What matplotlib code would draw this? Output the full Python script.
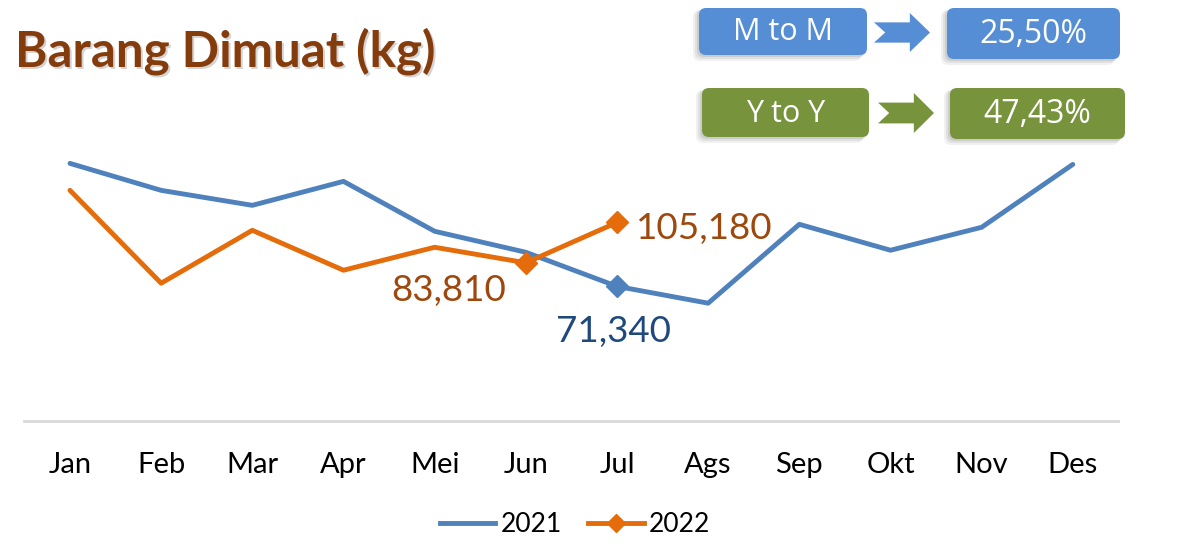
import matplotlib.pyplot as plt
from matplotlib.patches import FancyBboxPatch, Polygon
from matplotlib.lines import Line2D

plt.rcParams['font.family'] = ['Lato', 'DejaVu Sans']

months = ['Jan', 'Feb', 'Mar', 'Apr', 'Mei', 'Jun', 'Jul', 'Ags', 'Sep', 'Okt', 'Nov', 'Des']
y2021 = [136480, 122200, 114260, 126960, 100510, 89400, 71340, 62420, 104210, 90460, 102630, 135950]
y2022 = [122200, 73000, 101040, 79880, 92050, 83810, 105180]

title = 'Barang Dimuat (kg)'
mtm_label, mtm_value = 'M to M', '25,50%'
yty_label, yty_value = 'Y to Y', '47,43%'

blue = '#4F81BD'
orange = '#E46C0A'

fig = plt.figure(figsize=(11.79, 5.49), dpi=100)

# main chart area (pixel-matched to the reference)
ax = fig.add_axes([24.4 / 1179, 128 / 549, 1094 / 1179, 302 / 549])
x = list(range(len(months)))
ax.plot(x, y2021, color=blue, lw=3.5, solid_capstyle='round', zorder=3)
ax.plot(x[6], y2021[6], marker='D', ms=11, color=blue, zorder=4)
ax.plot(x[:len(y2022)], y2022, color=orange, lw=3.5, solid_capstyle='round', zorder=3)
ax.plot(x[5:7], y2022[5:7], ls='none', marker='D', ms=11, color=orange, zorder=4)

ax.set_xlim(-0.5, 11.5)
ax.set_ylim(0, 160000)
ax.set_yticks([])
ax.set_xticks(x)
ax.set_xticklabels(months, fontsize=21)
ax.tick_params(axis='x', length=0, pad=22)
for s in ['top', 'right', 'left']:
    ax.spines[s].set_visible(False)
ax.spines['bottom'].set_color('#D9D9D9')
ax.spines['bottom'].set_linewidth(2)

def fmt(v):
    return '{:,}'.format(v)

ax.annotate(fmt(y2022[5]), (x[5], y2022[5]), xytext=(-20, -28), textcoords='offset pixels',
            ha='right', va='center', fontsize=26.5, color='#9E480E')
ax.annotate(fmt(y2022[6]), (x[6], y2022[6]), xytext=(19, -6), textcoords='offset pixels',
            ha='left', va='center', fontsize=26.5, color='#9E480E')
ax.annotate(fmt(y2021[6]), (x[6], y2021[6]), xytext=(-3, -45), textcoords='offset pixels',
            ha='center', va='center', fontsize=26.5, color='#1F497D')

# legend
handles = [Line2D([], [], color=blue, lw=3.5),
           Line2D([], [], color=orange, lw=3.5, marker='D', ms=9)]
fig.legend(handles, ['2021', '2022'], loc='center', bbox_to_anchor=(575 / 1179, 1 - 525 / 549),
           ncol=2, frameon=False, fontsize=19, handlelength=2.1, handletextpad=0.2,
           columnspacing=1.0)

# overlay in pixel coordinates for title and KPI boxes
ov = fig.add_axes([0, 0, 1, 1], zorder=5)
ov.set_xlim(0, 1179)
ov.set_ylim(549, 0)
ov.axis('off')
ov.patch.set_alpha(0)

ov.text(17, 53, title, fontsize=35.5, fontweight='bold', color='#A0A0A0', alpha=0.45,
        ha='left', va='center')
ov.text(15, 51, title, fontsize=35.5, fontweight='bold', color='#843C0C',
        ha='left', va='center')

def box(x0, y0, x1, y1, color, text, size):
    for i, a in enumerate([0.10, 0.15, 0.2]):
        d = 6 - 2 * i
        sh = FancyBboxPatch((x0 - d, y0 + 2), x1 - x0, y1 - y0 + d - 2,
                            boxstyle='round,pad=0,rounding_size=7',
                            fc='#7F7F7F', ec='none', alpha=a)
        ov.add_patch(sh)
    p = FancyBboxPatch((x0, y0), x1 - x0, y1 - y0, boxstyle='round,pad=0,rounding_size=7',
                       fc=color, ec='none')
    ov.add_patch(p)
    ov.text((x0 + x1) / 2, (y0 + y1) / 2 + 1, text, color='white', fontsize=size,
            family=['Open Sans', 'DejaVu Sans'], ha='center', va='center')

def arrow(x0, y0, x1, y1, color):
    ym = (y0 + y1) / 2
    bh = (y1 - y0) * 0.26
    hx = x0 + (x1 - x0) * 0.64
    notch = (x1 - x0) * 0.2
    pts = [(x0, ym - bh), (hx, ym - bh), (hx, y0), (x1, ym), (hx, y1),
           (hx, ym + bh), (x0, ym + bh), (x0 + notch, ym)]
    ov.add_patch(Polygon(pts, closed=True, fc=color, ec='none'))

mtm_color = '#558ED5'
yty_color = '#77933C'
box(699, 8, 867, 55, mtm_color, mtm_label, 22)
arrow(874, 13, 930, 52, mtm_color)
box(947, 8, 1120, 59, mtm_color, mtm_value, 23)

box(702, 88, 869, 137, yty_color, yty_label, 22)
arrow(878, 93, 934, 133, yty_color)
box(950, 88, 1125, 139, yty_color, yty_value, 23)

fig.savefig('out.png', dpi=100)
